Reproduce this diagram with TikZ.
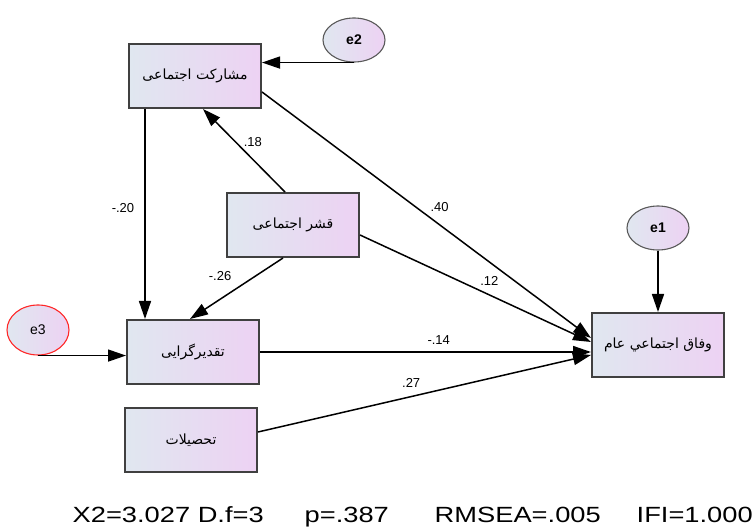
\documentclass[tikz,border=0pt]{standalone}
\usepackage{fontspec}
\setmainfont{Liberation Sans}
\newfontfamily\farsi[Script=Arabic]{DejaVu Sans}
\TeXXeTstate=1
\usepackage{tikz}
\usetikzlibrary{shapes.geometric}
\usetikzlibrary{positioning}
\usetikzlibrary{arrows.meta}
\definecolor{boxleft}{RGB}{224,231,240}
\definecolor{boxright}{RGB}{237,210,243}
\tikzstyle{observed} = [rectangle, minimum width=132pt, minimum height=64pt, text centered, draw=black!75, line width=2pt, left color=boxleft, right color=boxright, font=\farsi\fontsize{14}{16}\selectfont]
\tikzstyle{errterm} = [ellipse, minimum width=62pt, minimum height=44pt, inner sep=0pt, draw=black!65, line width=1.1pt, left color=boxleft, right color=boxright, font=\bfseries\fontsize{14}{16}\selectfont]
\tikzstyle{arrow} = [line width=1.5pt, -{Triangle[length=18pt,width=12pt]}]
\tikzstyle{coef} = [font=\fontsize{13}{15}\selectfont, inner sep=0pt]

\begin{document}
\begin{tikzpicture}[x=1pt, y=1pt, node distance=100pt]
        \useasboundingbox (0,0) rectangle (753,-529);
        \node (parti) [observed] at (195,-76) {\beginR مشارکت اجتماعی\endR};
        \node (qeshr) [observed, right of=parti, xshift=-2pt, yshift=-149pt] {\beginR قشر اجتماعی\endR};
        \node (taqdir) [observed, below of=parti, xshift=-2pt, yshift=-176pt] {\beginR تقدیرگرایی\endR};
        \node (tahsil) [observed, below of=taqdir, xshift=-2pt, yshift=12pt] {\beginR تحصیلات\endR};
        \node (vefaq) [observed, right of=taqdir, xshift=365pt, yshift=7pt] {\beginR وفاق اجتماعي عام\endR};
        \node (e1) [errterm, above of=vefaq, yshift=17pt] {e1};
        \node (e2) [errterm, right of=parti, xshift=59pt, yshift=36pt] {e2};
        \node (e3) [errterm, draw=red!85, font=\fontsize{14}{16}\selectfont, left of=taqdir, xshift=-55pt, yshift=22pt, minimum height=50pt] {e3};
        \node (fit) [font=\fontsize{22}{24}\selectfont, anchor=base east, inner sep=0pt] at (753,-522) {\scalebox{1.24}[1]{X2=3.027 D.f=3\hspace{33pt}p=.387\hspace{37pt}RMSEA=.005\hspace{29pt}IFI=1.000}};

        \draw [arrow] (e2.south) -- (e2.south -| parti.east);
        \draw [arrow] (e3.south) -- (e3.south -| taqdir.west);
        \draw [arrow] (e1) -- (vefaq);
        \draw [arrow] ([xshift=-50pt]parti.south) -- node[coef, pos=0.47, xshift=-22pt] {-.20} ([xshift=-50pt]parti.south |- taqdir.north);
        \draw [arrow] ([xshift=-8pt]qeshr.north) -- node[coef, pos=0.6, xshift=17pt] {.18} ([xshift=8pt]parti.south);
        \draw [arrow] ([xshift=-10pt]qeshr.south) -- node[coef, pos=0.3, xshift=-35pt] {-.26} ([xshift=-3pt]taqdir.north);
        \draw [arrow] ([yshift=-16pt]parti.east) -- node[coef, pos=0.54, yshift=18pt] {.40} ([yshift=7pt]vefaq.west);
        \draw [arrow] ([yshift=-10pt]qeshr.east) -- node[coef, pos=0.56, yshift=14pt] {.12} ([yshift=3pt]vefaq.west);
        \draw [arrow] (taqdir.east) -- node[coef, pos=0.54, yshift=12pt] {-.14} (taqdir.east -| vefaq.west);
        \draw [arrow] ([yshift=8pt]tahsil.east) -- node[coef, pos=0.46, yshift=14pt] {.27} ([yshift=-10pt]vefaq.west);
    \end{tikzpicture}
\end{document}
